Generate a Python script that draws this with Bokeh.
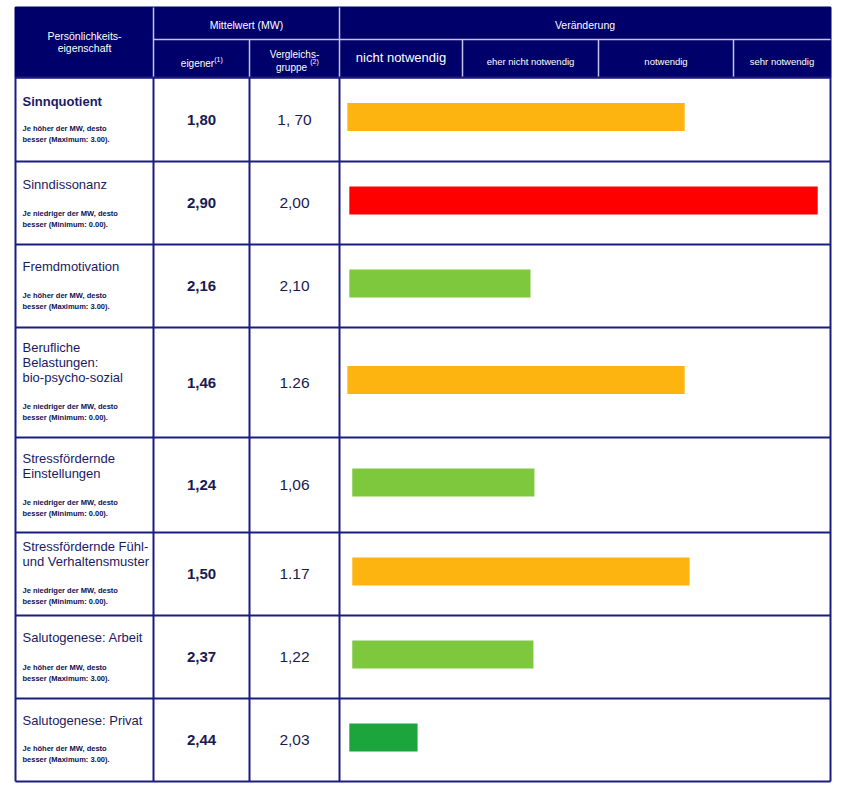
from bokeh.plotting import figure
from bokeh.models import Range1d
from bokeh.core.properties import value
from bokeh.embed import file_html
from bokeh.resources import INLINE

# ---------------- data ----------------
eigenschaft = [
    ["Sinnquotient"],
    ["Sinndissonanz"],
    ["Fremdmotivation"],
    ["Berufliche", "Belastungen:", "bio-psycho-sozial"],
    ["Stressfördernde", "Einstellungen"],
    ["Stressfördernde Fühl-", "und Verhaltensmuster"],
    ["Salutogenese: Arbeit"],
    ["Salutogenese: Privat"],
]
richtung = ["hoch", "niedrig", "hoch", "niedrig", "niedrig", "niedrig", "hoch", "hoch"]
hinweis = {
    "hoch": ["Je  höher  der  MW,  desto", "besser  (Maximum:  3.00)."],
    "niedrig": ["Je  niedriger  der  MW,  desto", "besser  (Minimum:  0.00)."],
}
eigener = ["1,80", "2,90", "2,16", "1,46", "1,24", "1,50", "2,37", "2,44"]
vergleich = ["1, 70", "2,00", "2,10", "1.26", "1,06", "1.17", "1,22", "2,03"]
# bar extent on the "Veränderung" scale (0 = left edge, 100 = right edge of the column)
bar_start = [1.6, 2.0, 2.0, 1.6, 2.6, 2.6, 2.6, 2.0]
bar_end = [70.3, 97.4, 38.9, 70.3, 39.7, 71.3, 39.5, 15.9]
bar_color = ["#FDB410", "#FF0000", "#7EC83E", "#FDB410", "#7EC83E", "#FDB410", "#7EC83E", "#1BA53C"]
veraenderung_labels = ["nicht notwendig", "eher nicht notwendig", "notwendig", "sehr notwendig"]

# ---------------- layout (page pixels) ----------------
XL, XC1, XC2, XC3, XR = 15, 153, 249, 339, 830
YT, YHM, YHB = 7, 39, 77
row_edges = [77, 161, 244, 327, 437, 532, 615, 698, 781]
sub_cols = [XC3, 462, 598, 733, XR]
title_off = [24, 23, 22, 20, 21, 14, 22, 22]
sub_off = [33, 31, 32, 31, 30, 25, 31, 33]

NAVY = "#00006A"
GRID = "#1C1C80"
TXT = "#1A1A62"
LIGHT = "#C4C4E8"
FONT = value("Liberation Sans")

X0, X1, Y0, Y1 = 0, 834, 0, 785
p = figure(width=X1 - X0, height=Y1 - Y0, x_range=Range1d(X0, X1), y_range=Range1d(Y1, Y0),
           x_axis_type=None, y_axis_type=None, toolbar_location=None,
           output_backend="svg", min_border=0, outline_line_color=None)
p.grid.visible = False
p.background_fill_color = "white"

# Veränderung scale mapped onto its column
span = XR - XC3
p.extra_x_ranges = {"v": Range1d(start=(X0 - XC3) / span * 100, end=(X1 - XC3) / span * 100)}

# header background
p.quad(left=[XL], right=[XR], top=[YT], bottom=[YHB], fill_color=NAVY, line_color=NAVY, line_width=2)

# header inner lines
hx0 = [XC1, XC3, XC2] + sub_cols[1:4] + [XC1]
hy0 = [YT, YT, YHM] + [YHM] * 3 + [YHM]
hx1 = [XC1, XC3, XC2] + sub_cols[1:4] + [XR]
hy1 = [YHB, YHB, YHB] + [YHB] * 3 + [YHM]
p.segment(x0=hx0, y0=hy0, x1=hx1, y1=hy1, line_color=LIGHT, line_width=1.5)

# body grid
gx0 = [XL] * len(row_edges) + [XL, XC1, XC2, XC3, XR]
gx1 = [XR] * len(row_edges) + [XL, XC1, XC2, XC3, XR]
gy0 = row_edges + [YHB] * 5
gy1 = row_edges + [row_edges[-1]] * 5
p.segment(x0=gx0, y0=gy0, x1=gx1, y1=gy1, line_color=GRID, line_width=2)

# header texts
def t(x, y, s, size, color="white", align="center", style="normal"):
    p.text(x=[x], y=[y], text=[s], text_font=FONT, text_font_size=size, text_color=color,
           text_align=align, text_baseline="middle", text_font_style=style)

t((XL + XC1) / 2, 35, "Persönlichkeits-", "10.5px")
t((XL + XC1) / 2, 47, "eigenschaft", "10.5px")
t((XC1 + XC3) / 2, 24, "Mittelwert (MW)", "10.5px")
t((XC3 + XR) / 2, 24, "Veränderung", "10.5px")
t((XC1 + XC2) / 2 - 4, 63, "eigener", "10px")
t((XC1 + XC2) / 2 + 17, 59, "(1)", "7px")
t((XC2 + XC3) / 2, 54, "Vergleichs-", "10px")
t((XC2 + XC3) / 2 - 3, 67, "gruppe", "10px")
t((XC2 + XC3) / 2 + 20, 61, "(2)", "7px")
for i, lab in enumerate(veraenderung_labels):
    cx = (sub_cols[i] + sub_cols[i + 1]) / 2
    t(cx, 57 if i == 0 else 61, lab, "13px" if i == 0 else "9.5px")

# body rows
for i in range(len(eigenschaft)):
    top, bot = row_edges[i], row_edges[i + 1]
    for j, line in enumerate(eigenschaft[i]):
        t(XL + 7, top + title_off[i] + 15 * j, line, "13px", color=TXT, align="left",
          style="bold" if i == 0 else "normal")
    for j, line in enumerate(hinweis[richtung[i]]):
        t(XL + 7, bot - sub_off[i] + 10.5 * j, line, "7.5px", color="#101050", align="left",
          style="bold")

row_mid = [(row_edges[i] + row_edges[i + 1]) / 2 for i in range(len(eigener))]
p.text(x=[(XC1 + XC2) / 2] * len(eigener), y=row_mid, text=eigener, text_font=FONT,
       text_font_size="15px", text_font_style="bold", text_color="#1A1A50",
       text_align="center", text_baseline="middle")
p.text(x=[(XC2 + XC3) / 2] * len(vergleich), y=row_mid, text=vergleich, text_font=FONT,
       text_font_size="15.5px", text_color="#1A1A50", text_align="center", text_baseline="middle")

# bars
bar_y = [m - 2.5 for m in row_mid]
p.hbar(y=bar_y, left=bar_start, right=bar_end, height=28, fill_color=bar_color,
       line_color=None, x_range_name="v")

open("out.html", "w").write(file_html(p, INLINE))
